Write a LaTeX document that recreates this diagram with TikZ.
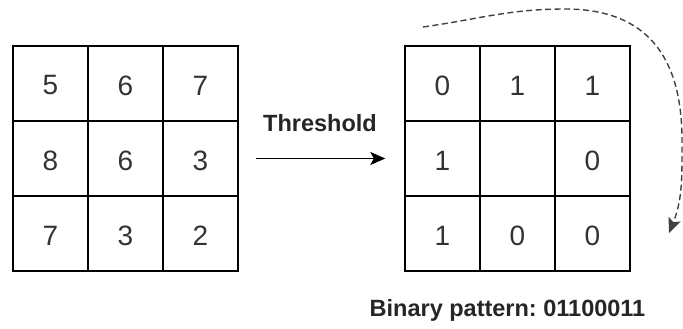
\documentclass[tikz,border=0pt]{standalone}
\usepackage{fontspec}
\setmainfont{Liberation Sans}
\usetikzlibrary{arrows.meta}
\begin{document}
\begin{tikzpicture}[x=1pt,y=-1pt,
  cell/.style={draw, line width=1.4pt, minimum size=75pt, inner sep=0pt},
  digit/.style={font=\fontsize{28}{30}\selectfont, text=black!80, inner sep=0pt},
  caption/.style={font=\fontsize{23.5}{26}\selectfont\bfseries\frenchspacing, text=black!85, inner sep=0pt},
  tip/.style={-{Stealth[length=15pt,width=13pt,inset=3.5pt]}},
  flow/.style={line width=1.6pt, tip},
  readout/.style={line width=1.4pt, draw=black!75, dash pattern=on 6pt off 3.5pt, tip}
]
\useasboundingbox (0,0) rectangle (683,329);

% input neighbourhood (3x3 grey values)
\foreach \v [count=\k from 0] in {5,6,7,8,6,3,7,3,2} {
  \pgfmathtruncatemacro\i{div(\k,3)}
  \pgfmathtruncatemacro\j{mod(\k,3)}
  \node[cell] (a-\i-\j) at (50.5+75*\j, 83.5+75*\i) {};
  \node[digit] (da-\i-\j) at ([yshift=-2pt]a-\i-\j.center) {\v};
}

% thresholded neighbourhood
\foreach \v [count=\k from 0] in {0,1,1,1,{},0,1,0,0} {
  \pgfmathtruncatemacro\i{div(\k,3)}
  \pgfmathtruncatemacro\j{mod(\k,3)}
  \node[cell] (b-\i-\j) at (442.5+75*\j, 83.5+75*\i) {};
  \node[digit] (db-\i-\j) at ([yshift=-2pt]b-\i-\j.center) {\v};
}

% threshold step
\draw[flow, shorten <=17pt, shorten >=19pt] (a-1-2.east) -- (b-1-0.west);
\node[caption, anchor=base] (thr) at (320,131) {Threshold};

% clockwise read-out of the bits
\coordinate (cs) at (423,27);
\coordinate (ct) at (565,9);
\coordinate (cr) at (682,140);
\coordinate (ce) at (669,233);
\draw[readout] (cs) to[out=8,in=180] (ct) to[out=0,in=90,looseness=1.2] (cr)
  to[out=-90,in=68] (ce);

\node[caption, anchor=base] (pat) at (507.5,316.5) {Binary pattern: 01100011};
\end{tikzpicture}
\end{document}
